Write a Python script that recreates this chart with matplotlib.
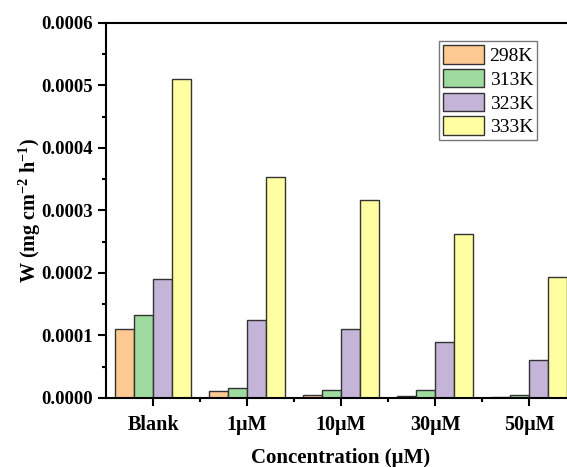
import numpy as np
import matplotlib

matplotlib.use("Agg")

import matplotlib.pyplot as plt
from matplotlib.ticker import FixedLocator, MultipleLocator, FormatStrFormatter

plt.rcParams["font.family"] = ["Liberation Serif", "DejaVu Serif"]
plt.rcParams["mathtext.fontset"] = "custom"
plt.rcParams["mathtext.rm"] = "Liberation Serif:bold"
plt.rcParams["mathtext.bf"] = "Liberation Serif:bold"

# data
categories = ["Blank", "1\u03bcM", "10\u03bcM", "30\u03bcM", "50\u03bcM"]
series_labels = ["298K", "313K", "323K", "333K"]
w_298 = [0.000110, 0.000011, 0.000005, 0.000003, 0.000001]
w_313 = [0.000133, 0.000016, 0.000013, 0.000013, 0.000005]
w_323 = [0.000190, 0.000125, 0.000110, 0.000090, 0.000060]
w_333 = [0.000510, 0.000353, 0.000317, 0.000263, 0.000193]

colors = ["#FDC993", "#9FDA9F", "#C3B4D8", "#FFFFA2"]

fig = plt.figure(figsize=(5.67, 4.67), dpi=100)
ax = fig.add_axes([0.187, 0.148, 0.829, 0.803])

x = np.arange(len(categories))
width = 0.2
for i, (vals, lab) in enumerate(zip([w_298, w_313, w_323, w_333], series_labels)):
    ax.bar(x + (i - 1.5) * width, vals, width, color=colors[i], edgecolor="#333333",
           linewidth=1.0, label=lab)

ax.set_xlim(-0.5, 4.5)
ax.set_ylim(0, 0.0006)
ax.set_xticks(x)
ax.set_xticklabels(categories, fontweight="bold", fontsize=14.5)
ax.xaxis.set_minor_locator(FixedLocator(x[:-1] + 0.5))
ax.yaxis.set_major_locator(MultipleLocator(0.0001))
ax.yaxis.set_minor_locator(MultipleLocator(0.00005))
ax.yaxis.set_major_formatter(FormatStrFormatter("%.4f"))
for t in ax.get_yticklabels():
    t.set_fontweight("bold")
    t.set_fontsize(13.5)

ax.tick_params(which="major", direction="out", length=6, width=1.5)
ax.tick_params(which="minor", direction="out", length=3, width=1.5)
ax.tick_params(axis="x", which="major", pad=6)
for s in ax.spines.values():
    s.set_linewidth(1.5)

ax.set_xlabel("Concentration (\u03bcM)", fontweight="bold", fontsize=15, labelpad=10)
ax.set_ylabel(r"W (mg cm$^{-2}$ h$^{-1}$)", fontweight="bold", fontsize=14.5, labelpad=-1)

leg = ax.legend(loc="upper right", bbox_to_anchor=(537 / 567, 1 - 41 / 467),
                bbox_transform=fig.transFigure, fontsize=14, frameon=True, fancybox=False,
                edgecolor="#555555", handlelength=2.1, handleheight=1.1,
                labelspacing=0.2, handletextpad=0.3, borderpad=0.2, borderaxespad=0)
leg.get_frame().set_linewidth(1.0)

fig.savefig("out.png", dpi=100)
